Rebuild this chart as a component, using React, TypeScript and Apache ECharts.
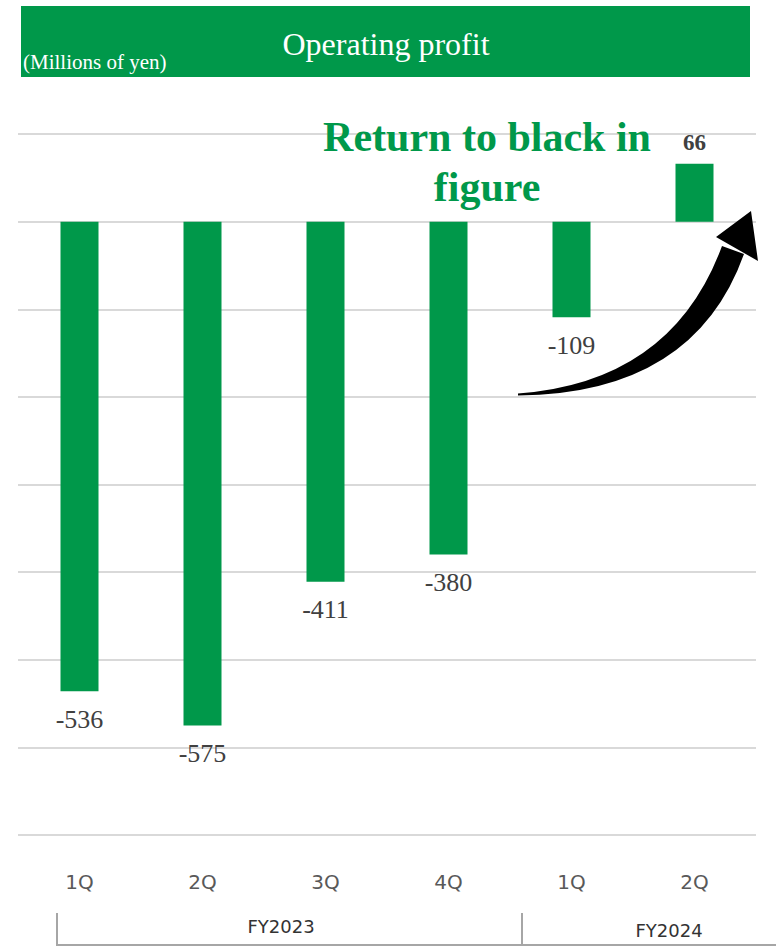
import React, { useEffect, useRef } from "react";
import * as echarts from "echarts";

const categories = ["1Q", "2Q", "3Q", "4Q", "1Q", "2Q"];
const profitValues = [-536, -575, -411, -380, -109, 66];
const fiscalYears = ["FY2023", "FY2024"];
const titleText = "Operating profit";
const unitText = "(Millions of yen)";
const noteLines = ["Return to black in", "figure"];

const GREEN = "#00984a";

const arrowPath =
  "M 518 393.5 Q 672 382 722 246 L 744 254 Q 694 394 518 395.5 Z " +
  "M 716 237 L 751 211 L 758 261 Z";

export default function App() {
  const ref = useRef<HTMLDivElement>(null);
  useEffect(() => {
    if (!ref.current) return;
    try {
      echarts.graphic.registerShape("arrowShape", echarts.graphic.extendPath(arrowPath, {}) as any);
    } catch (e) {}
    const chart = echarts.init(ref.current, null, { renderer: "svg" });
    const data = profitValues.map((v) =>
      v >= 0
        ? {
            value: v,
            label: {
              show: true,
              position: "top",
              distance: 10,
              fontFamily: "Liberation Serif",
              fontWeight: "bold",
              fontSize: 23,
              color: "#404040",
            },
          }
        : {
            value: v,
            label: {
              show: true,
              position: "bottom",
              distance: 15,
              fontFamily: "Liberation Serif",
              fontSize: 26,
              color: "#404040",
            },
          }
    );
    chart.setOption({
      animation: false,
      backgroundColor: "#ffffff",
      grid: { left: 18, right: 20, top: 134, bottom: 111, containLabel: false },
      xAxis: {
        type: "category",
        data: categories,
        axisLine: { show: false, onZero: false },
        axisTick: { show: false },
        axisLabel: {
          margin: 37,
          fontFamily: "DejaVu Sans",
          fontSize: 20,
          color: "#595959",
        },
        splitLine: { show: false },
      },
      yAxis: {
        type: "value",
        min: -700,
        max: 100,
        interval: 100,
        axisLabel: { show: false },
        axisLine: { show: false },
        axisTick: { show: false },
        splitLine: { lineStyle: { color: "#d9d9d9", width: 2 } },
      },
      series: [
        {
          type: "bar",
          data,
          barWidth: 38,
          itemStyle: { color: GREEN },
        },
      ],
      graphic: [
        {
          type: "rect",
          z: 100,
          shape: { x: 21, y: 6, width: 729, height: 71 },
          style: { fill: GREEN },
        },
        {
          type: "text",
          z: 101,
          x: 386,
          y: 44,
          style: {
            text: titleText,
            fill: "#ffffff",
            font: "32px 'Liberation Serif'",
            align: "center",
            verticalAlign: "middle",
          },
        },
        {
          type: "text",
          z: 101,
          x: 23,
          y: 62,
          style: {
            text: unitText,
            fill: "#ffffff",
            font: "21px 'Liberation Serif'",
            align: "left",
            verticalAlign: "middle",
          },
        },
        {
          type: "text",
          z: 101,
          x: 487,
          y: 137,
          style: {
            text: noteLines[0],
            fill: GREEN,
            font: "bold 42px 'Liberation Serif'",
            align: "center",
            verticalAlign: "middle",
          },
        },
        {
          type: "text",
          z: 101,
          x: 487,
          y: 187,
          style: {
            text: noteLines[1],
            fill: GREEN,
            font: "bold 42px 'Liberation Serif'",
            align: "center",
            verticalAlign: "middle",
          },
        },
        {
          type: "arrowShape",
          z: 101,
          x: 0,
          y: 0,
          style: { fill: "#000000" },
        },
        {
          type: "polyline",
          shape: { points: [[57, 913], [57, 945], [776, 945]] },
          style: { stroke: "#a6a6a6", lineWidth: 2, fill: "none" },
        },
        {
          type: "line",
          shape: { x1: 522, y1: 913, x2: 522, y2: 945 },
          style: { stroke: "#a6a6a6", lineWidth: 2 },
        },
        {
          type: "text",
          x: 281,
          y: 926,
          style: {
            text: fiscalYears[0],
            fill: "#333333",
            font: "18px 'DejaVu Sans'",
            align: "center",
            verticalAlign: "middle",
          },
        },
        {
          type: "text",
          x: 669,
          y: 930,
          style: {
            text: fiscalYears[1],
            fill: "#333333",
            font: "18px 'DejaVu Sans'",
            align: "center",
            verticalAlign: "middle",
          },
        },
      ],
    });
    return () => chart.dispose();
  }, []);
  return (
    <div
      ref={ref}
      style={{ position: "absolute", left: 0, top: 0, width: 776, height: 946 }}
    />
  );
}
